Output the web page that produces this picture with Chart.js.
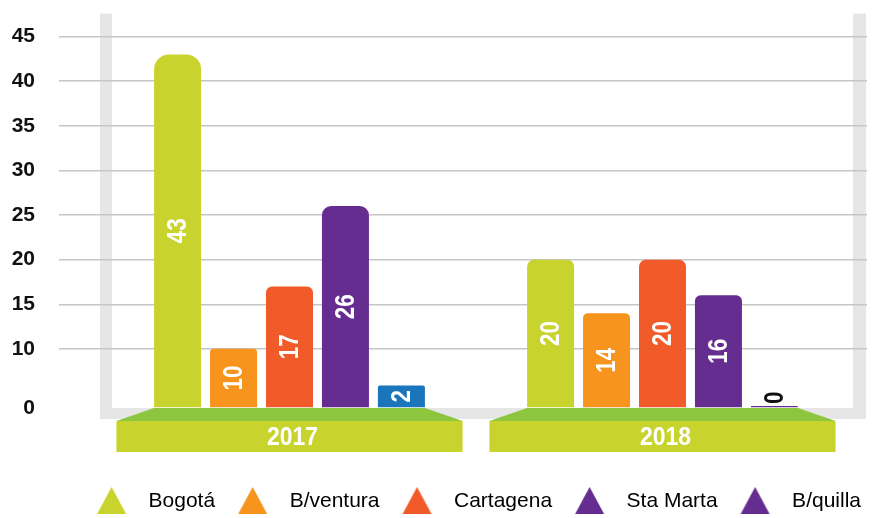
<!DOCTYPE html>
<html>
<head>
<meta charset="utf-8">
<script src="https://cdn.jsdelivr.net/npm/chart.js@4.4.1/dist/chart.umd.min.js"></script>
<style>
    html, body { margin: 0; padding: 0; background: #fff; }
    #wrap { position: relative; width: 872px; height: 518px; }
</style>
</head>
<body>
<div id="wrap"><canvas id="cityChart"></canvas></div>
<script>
const YEARS = ["2017", "2018"];
const CITIES = ["Bogotá", "B/ventura", "Cartagena", "Sta Marta", "B/quilla"];
const BOGOTA = [43, 20];
const BUENAVENTURA = [10, 14];
const CARTAGENA = [17, 20];
const STA_MARTA = [26, 16];
const BARRANQUILLA = [2, 0];
const Y_TICKS = [0, 10, 15, 20, 25, 30, 35, 40, 45];

const COLORS = {
    bogota: "#c8d32e",
    buenaventura: "#f7941d",
    cartagena: "#f15a29",
    staMarta: "#662d91",
    barranquilla: ["#1b75bb", "#662d91"],
    legendBarranquilla: "#662d91",
    frame: "#e6e6e6",
    baseTop: "#8cc63f",
    base: "#c8d32e",
};

const SANS = "'Liberation Sans', Arial, sans-serif";

// eje con corte: el tramo 0-10 va comprimido (curva), de 10 en adelante es lineal
class BrokenLinearScale extends Chart.LinearScale {
    getPixelForValue(value) {
        const brk = this.options.axisBreak;
        let dec;
        if (value <= brk.value) {
            const t = Math.max(0, (value - this.min) / (brk.value - this.min));
            dec = Math.pow(t, brk.curve) * brk.share;
        } else {
            dec = brk.share + ((value - brk.value) / (this.max - brk.value)) * (1 - brk.share);
        }
        return this.getPixelForDecimal(dec);
    }

    getValueForPixel(pixel) {
        const brk = this.options.axisBreak;
        const dec = this.getDecimalForPixel(pixel);
        if (dec <= brk.share) {
            const t = Math.pow(Math.max(0, dec / brk.share), 1 / brk.curve);
            return this.min + t * (brk.value - this.min);
        }
        return brk.value + ((dec - brk.share) / (1 - brk.share)) * (this.max - brk.value);
    }
}
BrokenLinearScale.id = "brokenLinear";
BrokenLinearScale.defaults = Chart.LinearScale.defaults;
Chart.register(BrokenLinearScale);

const AXIS_BREAK = { value: 10, share: 0.1592, curve: 0.6 };

function triangleIcon(color) {
    const c = document.createElement("canvas");
    c.width = 58;
    c.height = 32;
    const g = c.getContext("2d");
    g.fillStyle = color;
    g.beginPath();
    g.moveTo(31.5, 2);
    g.lineTo(46, 29);
    g.lineTo(17, 29);
    g.closePath();
    g.fill();
    return c;
}

function capRadius(ctx) {
    const r = Math.max(2, Math.min(16, (ctx.raw || 0) * 0.35));
    return { topLeft: r, topRight: r, bottomLeft: 0, bottomRight: 0 };
}

function gridColor(ctx) {
    return ctx.tick && ctx.tick.value === 0 ? "rgba(0,0,0,0)" : "#c6c6c6";
}

// texto condensado a mano: no hay fuente estrecha instalada
function condensedText(ctx, text, x, y, angle, squeeze) {
    ctx.save();
    ctx.translate(x, y);
    ctx.rotate(angle);
    ctx.scale(squeeze, 1);
    ctx.fillText(text, 0, 0);
    ctx.restore();
}

const framePlugin = {
    id: "frame",
    beforeDraw(chart) {
        const { ctx, chartArea: { left, right, top, bottom } } = chart;
        ctx.save();
        ctx.fillStyle = COLORS.frame;
        ctx.fillRect(left - 3, top - 23, 12, bottom - top + 34);
        ctx.fillRect(right + 4, top - 23, 13, bottom - top + 34);
        ctx.fillRect(left - 3, bottom, right - left + 20, 11);
        ctx.restore();
    },
};

const yearBasePlugin = {
    id: "yearBase",
    afterDatasetsDraw(chart) {
        const { ctx, chartArea: { bottom } } = chart;
        const xScale = chart.scales.x;
        const first = chart.getDatasetMeta(0);
        const last = chart.getDatasetMeta(chart.data.datasets.length - 1);
        const catWidth = xScale.width / YEARS.length;
        const half = catWidth * 0.464;

        ctx.save();
        YEARS.forEach((year, i) => {
            const cx = xScale.getPixelForValue(i);
            const a = first.data[i];
            const b = last.data[i];
            const topL = a.x - a.width / 2;
            const topR = b.x + b.width / 2;

            ctx.fillStyle = COLORS.baseTop;
            ctx.beginPath();
            ctx.moveTo(topL, bottom);
            ctx.lineTo(topR, bottom);
            ctx.lineTo(cx + half, bottom + 13);
            ctx.lineTo(cx - half, bottom + 13);
            ctx.closePath();
            ctx.fill();

            ctx.fillStyle = COLORS.base;
            ctx.fillRect(cx - half, bottom + 13, half * 2, 31);

            ctx.fillStyle = "#ffffff";
            ctx.font = "bold 25px " + SANS;
            ctx.textAlign = "center";
            ctx.textBaseline = "middle";
            condensedText(ctx, year, cx + 3, bottom + 30, 0, 0.92);
        });
        ctx.restore();
    },
};

const barValuePlugin = {
    id: "barValues",
    afterDatasetsDraw(chart) {
        const { ctx } = chart;
        const squeeze = 0.8;
        ctx.save();
        ctx.font = "bold 28px " + SANS;
        ctx.textAlign = "center";
        ctx.textBaseline = "middle";
        chart.data.datasets.forEach((ds, di) => {
            chart.getDatasetMeta(di).data.forEach((bar, i) => {
                const text = String(ds.data[i]);
                const tw = ctx.measureText(text).width * squeeze;
                const h = bar.base - bar.y;
                let cy;
                if (h >= tw + 4) {
                    ctx.fillStyle = "#ffffff";
                    cy = (bar.y + bar.base) / 2;
                } else {
                    ctx.fillStyle = "#111111";
                    cy = bar.y - 2 - tw / 2;
                }
                condensedText(ctx, text, bar.x + 1, cy, -Math.PI / 2, squeeze);
            });
        });
        ctx.restore();
    },
};

const series = [
    { label: CITIES[0], data: BOGOTA, color: COLORS.bogota, legend: COLORS.bogota },
    { label: CITIES[1], data: BUENAVENTURA, color: COLORS.buenaventura, legend: COLORS.buenaventura },
    { label: CITIES[2], data: CARTAGENA, color: COLORS.cartagena, legend: COLORS.cartagena },
    { label: CITIES[3], data: STA_MARTA, color: COLORS.staMarta, legend: COLORS.staMarta },
    { label: CITIES[4], data: BARRANQUILLA, color: COLORS.barranquilla, legend: COLORS.legendBarranquilla },
];

Chart.defaults.font.family = SANS;

new Chart(document.getElementById("cityChart"), {
    type: "bar",
    data: {
        labels: YEARS,
        datasets: series.map((s) => ({
            label: s.label,
            data: s.data,
            backgroundColor: s.color,
            borderWidth: 0,
            borderRadius: capRadius,
            minBarLength: 2,
            categoryPercentage: 0.75,
            barPercentage: 0.84,
        })),
    },
    options: {
        responsive: true,
        maintainAspectRatio: false,
        animation: false,
        layout: {
            padding: { top: 31, bottom: -3.5, left: 0, right: 5 },
        },
        plugins: {
            tooltip: { enabled: false },
            legend: {
                position: "bottom",
                align: "end",
                labels: {
                    usePointStyle: true,
                    pointStyleWidth: 58,
                    padding: 6,
                    color: "#231f20",
                    font: { family: SANS, size: 21 },
                    generateLabels: (chart) =>
                        chart.data.datasets.map((ds, i) => ({
                            text: ds.label,
                            fillStyle: series[i].legend,
                            strokeStyle: series[i].legend,
                            lineWidth: 0,
                            pointStyle: triangleIcon(series[i].legend),
                            hidden: !chart.isDatasetVisible(i),
                            datasetIndex: i,
                        })),
                },
            },
        },
        scales: {
            x: {
                grid: { display: false },
                border: { display: false },
                ticks: { display: false },
                afterFit: (scale) => {
                    scale.height = 76.5;
                },
            },
            y: {
                type: "brokenLinear",
                position: "left",
                min: 0,
                max: 45,
                axisBreak: AXIS_BREAK,
                afterBuildTicks: (scale) => {
                    scale.ticks = Y_TICKS.map((value) => ({ value }));
                },
                afterFit: (scale) => {
                    scale.width = 103;
                },
                border: { display: false },
                grid: {
                    color: gridColor,
                    tickColor: gridColor,
                    lineWidth: 1.5,
                    tickLength: 44,
                },
                ticks: {
                    padding: 24,
                    color: "#111111",
                    font: { family: SANS, size: 21, weight: "bold" },
                },
            },
            y2: {
                type: "brokenLinear",
                position: "right",
                min: 0,
                max: 45,
                axisBreak: AXIS_BREAK,
                afterBuildTicks: (scale) => {
                    scale.ticks = Y_TICKS.map((value) => ({ value }));
                },
                border: { display: false },
                grid: {
                    drawOnChartArea: false,
                    color: gridColor,
                    tickColor: gridColor,
                    lineWidth: 1.5,
                    tickLength: 18,
                },
                ticks: { display: false },
            },
        },
    },
    plugins: [framePlugin, yearBasePlugin, barValuePlugin],
});
</script>
</body>
</html>
